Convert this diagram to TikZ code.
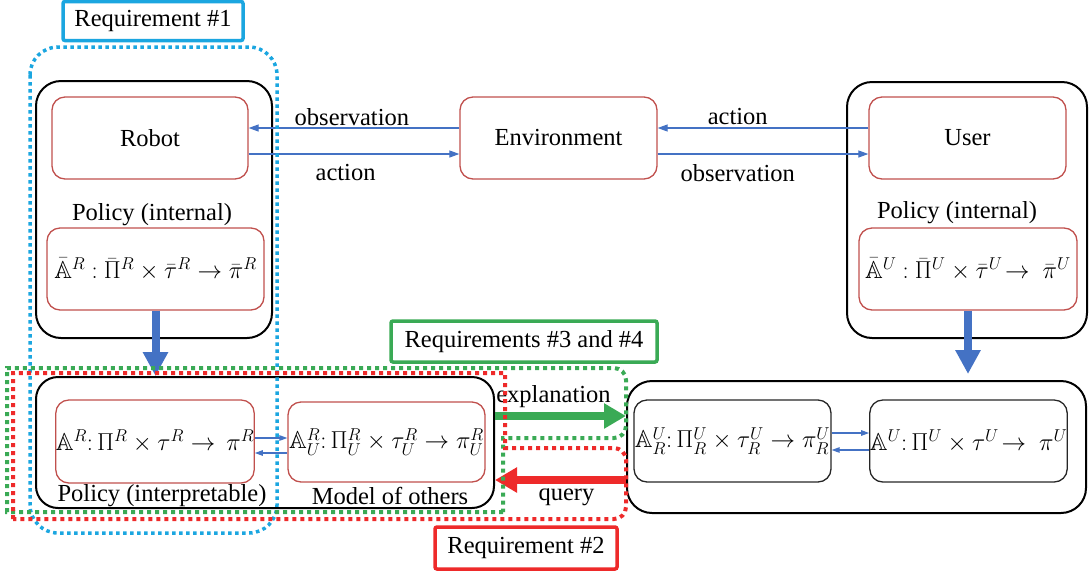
\RequirePackage{fix-cm}
\documentclass[tikz,border=0pt]{standalone}
\usepackage{fontspec}
\setmainfont{Liberation Serif}
\usepackage{amssymb}
\usetikzlibrary{arrows.meta,calc}
\definecolor{boxred}{HTML}{C0504D}
\definecolor{arrowblue}{HTML}{4472C4}
\definecolor{dotblue}{HTML}{1BA6E0}
\definecolor{reqgreen}{HTML}{3AAA55}
\definecolor{reqred}{HTML}{EE2A2A}
\definecolor{darkbox}{HTML}{262626}
\begin{document}
\begin{tikzpicture}[x=1pt,y=-1pt,
  lbl/.style={font=\fontsize{24.5}{28}\selectfont, inner sep=0pt},
  outerbox/.style={draw=black, line width=2pt, rounded corners=25pt},
  redbox/.style={draw=boxred, line width=1.3pt, rounded corners=13pt, inner sep=0pt, font=\fontsize{24.5}{28}\selectfont},
  graybox/.style={draw=darkbox, line width=1.3pt, rounded corners=13pt, inner sep=0pt, font=\fontsize{24.5}{28}\selectfont},
  reqbox/.style={line width=3.5pt, rounded corners=2pt, fill=white, inner sep=0pt, font=\fontsize{24.5}{28}\selectfont},
  thinarrow/.style={draw=arrowblue, line width=1.2pt, -{Triangle[width=7pt,length=10pt]}},
  smallarrow/.style={draw=arrowblue, line width=1.1pt, -{Triangle[width=5.5pt,length=8pt]}},
  bigblue/.style={draw=arrowblue, line width=8pt, -{Triangle[width=24pt,length=24pt]}},
  greenarrow/.style={draw=reqgreen, line width=8pt, -{Triangle[width=24pt,length=22pt]}},
  redarrow/.style={draw=reqred, line width=8pt, -{Triangle[width=24pt,length=22pt]}},
  bluedot/.style={draw=dotblue, line width=3.5pt, dash pattern=on 3.5pt off 3.5pt},
  greendot/.style={draw=reqgreen, line width=4pt, dash pattern=on 4pt off 4pt},
  reddot/.style={draw=reqred, line width=4pt, dash pattern=on 4pt off 4pt}
]
\useasboundingbox (0,0) rectangle (1090,574);

% top row
\node[outerbox, minimum width=236pt, minimum height=257pt] (robotOuter) at (154,209.5) {};
\node[redbox, minimum width=196pt, minimum height=82pt] (robot) at (150,138) {Robot};
\node[lbl] (policyIntR) at (152,215) {Policy (internal)};
\node[redbox, minimum width=217pt, minimum height=82pt] (policyR) at (155.5,269)
  {$\bar{\mathbb{A}}^R\ {:}\ \bar{\Pi}^R\times\bar{\tau}^R\to\bar{\pi}^R$};
\node[redbox, minimum width=197pt, minimum height=82pt] (env) at (558.5,138) {Environment};
\node[outerbox, minimum width=240pt, minimum height=256pt] (userOuter) at (967,210) {};
\node[redbox, minimum width=197pt, minimum height=82pt] (user) at (967.5,138) {User};
\node[lbl] (policyIntU) at (957,213) {Policy (internal)};
\node[redbox, minimum width=218pt, minimum height=82pt] (policyU) at (968,269)
  {$\bar{\mathbb{A}}^U\ {:}\ \bar{\Pi}^U\times\bar{\tau}^U\!\to\ \bar{\pi}^U$};

% bottom row
\node[outerbox, rounded corners=22pt, minimum width=458pt, minimum height=131pt] (leftOuter) at (265,442.5) {};
\node[redbox, minimum width=196pt, minimum height=83pt] (ar) at (155,441.5)
  {$\mathbb{A}^R{:}\,\Pi^R\times\tau^R\to\,\pi^R$};
\node[redbox, minimum width=197pt, minimum height=80pt] (aur) at (386.5,442)
  {$\mathbb{A}^R_U{:}\,\Pi^R_U\times\tau^R_U\to\pi^R_U$};
\node[lbl] (polInterp) at (162,496) {Policy (interpretable)};
\node[lbl] (model) at (390,496) {Model of others};
\node[outerbox, minimum width=459pt, minimum height=132pt] (rightOuter) at (856.5,447) {};
\node[graybox, minimum width=197pt, minimum height=82pt] (aru) at (732.5,441)
  {$\mathbb{A}^U_R{:}\,\Pi^U_R\times\tau^U_R\to\pi^U_R$};
\node[graybox, minimum width=197pt, minimum height=82pt] (au) at (968.5,441)
  {$\mathbb{A}^U{:}\,\Pi^U\times\tau^U\!\to\ \pi^U$};

% top arrows
\draw[thinarrow] ([yshift=10pt]env.west) -- node[lbl, pos=0.51, yshift=11pt] {observation} ([yshift=10pt]robot.east);
\draw[thinarrow] ([yshift=-16pt]robot.east) -- node[lbl, pos=0.46, yshift=-19pt] {action} ([yshift=-16pt]env.west);
\draw[thinarrow] ([yshift=10pt]user.west) -- node[lbl, pos=0.62, yshift=11pt] {action} ([yshift=10pt]env.east);
\draw[thinarrow] ([yshift=-16pt]env.east) -- node[lbl, pos=0.38, yshift=-19pt] {observation} ([yshift=-16pt]user.west);

% vertical thick arrows
\draw[bigblue] (policyR.south) -- (policyR.south |- leftOuter.north);
\draw[bigblue] (policyU.south) -- ($(policyU.south |- rightOuter.north)+(0,-6)$);

% small arrows
\coordinate (s1) at (0,438);
\coordinate (s2) at (0,453);
\coordinate (s3) at (0,433);
\coordinate (s4) at (0,450);
\draw[smallarrow] (ar.east |- s1) -- (aur.west |- s1);
\draw[smallarrow] (aur.west |- s2) -- (ar.east |- s2);
\draw[smallarrow] (aru.east |- s3) -- (au.west |- s3);
\draw[smallarrow] (au.west |- s4) -- (aru.east |- s4);

% explanation / query
\coordinate (ey) at (0,416);
\coordinate (qy) at (0,480);
\draw[greenarrow] (leftOuter.east |- ey) -- node[lbl, midway, xshift=-7pt, yshift=19pt] {explanation} (rightOuter.west |- ey);
\draw[redarrow] (rightOuter.west |- qy) -- node[lbl, midway, xshift=6pt, yshift=-17pt] {query} (leftOuter.east |- qy);

% requirement regions
\draw[bluedot, rounded corners=28pt] (30,47) rectangle (277,533);
\draw[greendot] (503,512) -- (7,512) -- (7,368) -- (560,368) [rounded corners=12pt] -- (626,368) -- (626,438) -- (560,438) [sharp corners] -- (503,438) -- cycle;
\draw[reddot] (13,519) -- (13,373) -- (505,373) -- (505,448) -- (560,448) [rounded corners=12pt] -- (626,448) -- (626,519) -- (560,519) [sharp corners] -- cycle;

% requirement labels
\node[reqbox, draw=dotblue, minimum width=180pt, minimum height=39pt] (req1) at (153,21) {Requirement \#1};
\node[reqbox, draw=reqgreen, minimum width=266pt, minimum height=41pt] (req34) at (524,341.5) {Requirements \#3 and \#4};
\node[reqbox, draw=reqred, minimum width=182pt, minimum height=42pt] (req2) at (526,548) {Requirement \#2};
\end{tikzpicture}
\end{document}
